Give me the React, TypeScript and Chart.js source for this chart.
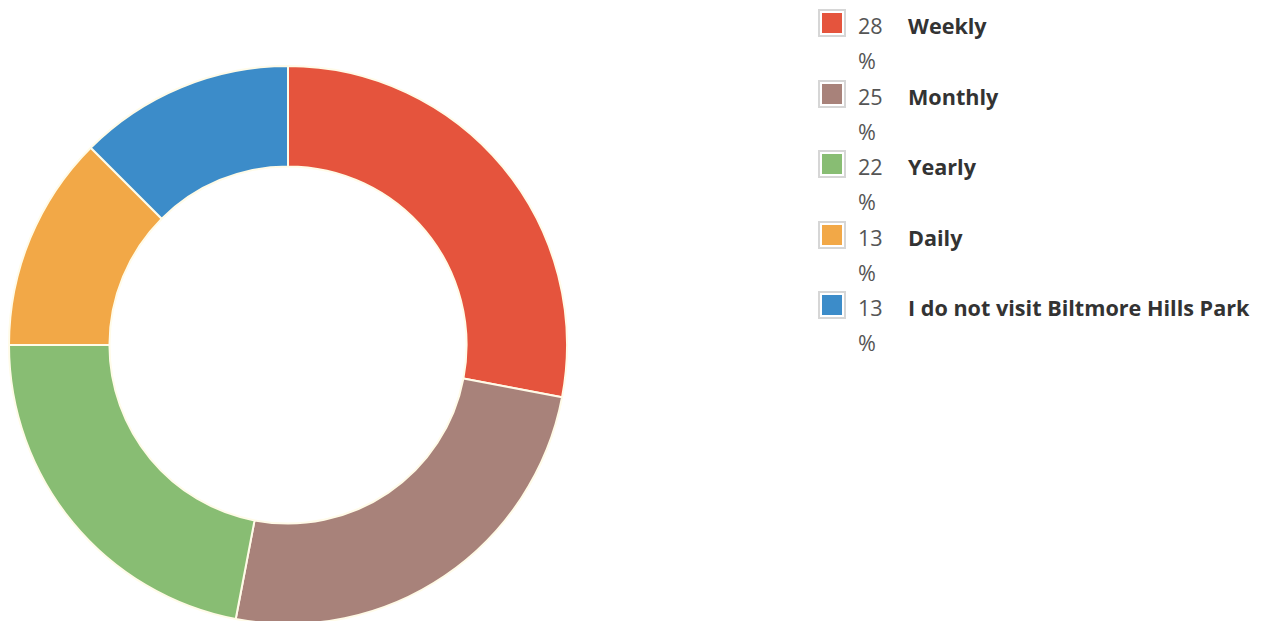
import React, { useEffect, useRef } from "react";
import { Chart, registerables } from "chart.js";

Chart.register(...registerables);

const categories = ["Weekly", "Monthly", "Yearly", "Daily", "I do not visit Biltmore Hills Park"];
const values = [28, 25, 22, 12.5, 12.5];
const colors = ["#E5543D", "#A8827A", "#88BD73", "#F2A847", "#3C8CC9"];

export default function App() {
  const ref = useRef<HTMLCanvasElement | null>(null);
  useEffect(() => {
    if (!ref.current) return;
    const chart = new Chart(ref.current, {
      type: "doughnut",
      data: {
        labels: categories,
        datasets: [
          {
            data: values,
            backgroundColor: colors,
            borderColor: "#FFFBE8",
            borderWidth: 2,
          },
        ],
      },
      options: {
        animation: false,
        responsive: false,
        cutout: "64%",
        layout: { padding: 0 },
        plugins: { legend: { display: false }, tooltip: { enabled: false } },
      },
    });
    return () => chart.destroy();
  }, []);

  return (
    <div style={{ position: "relative", width: 1255, height: 613, fontFamily: "'Open Sans', sans-serif" }}>
      <div style={{ position: "absolute", left: 0, top: 57, width: 560, height: 560 }}>
        <canvas ref={ref} width={560} height={560} style={{ width: 560, height: 560 }} />
      </div>
      <div style={{ position: "absolute", left: 810, top: 1 }}>
        {categories.map((c, i) => (
          <div key={c} style={{ position: "relative", height: 70.5 }}>
            <div
              style={{
                position: "absolute",
                left: 0,
                top: 0,
                width: 24,
                height: 24,
                border: "2px solid #d6d6d6",
                background: "#fff",
              }}
            >
              <div style={{ position: "absolute", left: 2, top: 2, width: 20, height: 20, background: colors[i] }} />
            </div>
            <div
              style={{
                position: "absolute",
                left: 40,
                top: -1,
                fontSize: 21.6,
                lineHeight: "35px",
                color: "#555",
              }}
            >
              {Math.round(values[i])}
              <br />%
            </div>
            <div
              style={{
                position: "absolute",
                left: 90,
                top: -1,
                fontSize: 21.6,
                lineHeight: "35px",
                fontWeight: 700,
                color: "#333",
                whiteSpace: "nowrap",
              }}
            >
              {c}
            </div>
          </div>
        ))}
      </div>
    </div>
  );
}
